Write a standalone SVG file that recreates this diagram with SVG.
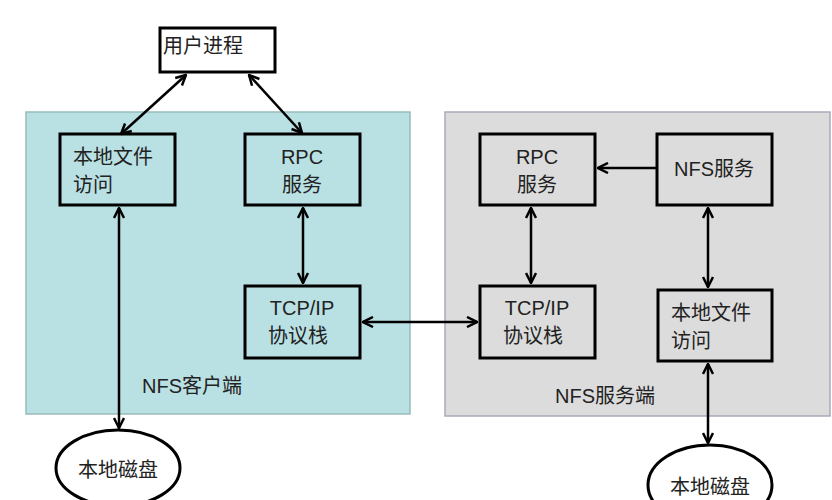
<svg xmlns="http://www.w3.org/2000/svg" width="832" height="500" viewBox="0 0 832 500">
<style>
.b{fill:none;stroke:#000;stroke-width:3}
.t{font-family:"Liberation Sans","Noto Sans CJK SC",sans-serif;font-size:20px;fill:#222}
.c{stroke:#000;stroke-width:2.5;fill:none;marker-end:url(#a)}
.d{stroke:#000;stroke-width:2.5;fill:none;marker-start:url(#s);marker-end:url(#a)}
</style>
<defs>
<marker id="a" viewBox="0 0 10 10" refX="9" refY="5" markerWidth="5" markerHeight="5" orient="auto" markerUnits="strokeWidth"><path d="M1,1 L9,5 L1,9" fill="none" stroke="#000" stroke-width="2"/></marker>
<marker id="s" viewBox="0 0 10 10" refX="1" refY="5" markerWidth="5" markerHeight="5" orient="auto" markerUnits="strokeWidth"><path d="M9,1 L1,5 L9,9" fill="none" stroke="#000" stroke-width="2"/></marker>
</defs>
<rect width="832" height="500" fill="#fff"/>
<g id="client"><rect x="26" y="112" width="384" height="302" fill="#b9e0e3" stroke="#9bb" stroke-width="1.5"/><text class="t" x="142" y="393">NFS客户端</text></g>
<g id="server"><rect x="445" y="112" width="385" height="304" fill="#dcdcdc" stroke="#aab" stroke-width="1.5"/><text class="t" x="555" y="403">NFS服务端</text></g>
<g id="user"><rect class="b" x="160" y="28" width="115" height="44" fill="#fff"/><text class="t" x="163" y="53">用户进程</text></g>
<g id="clocal"><rect class="b" x="60" y="134" width="115" height="71"/><text class="t" x="73" y="164">本地文件</text><text class="t" x="73" y="192">访问</text></g>
<g id="crpc"><rect class="b" x="245" y="134" width="115" height="71"/><text class="t" x="302" y="164" text-anchor="middle">RPC</text><text class="t" x="302" y="192" text-anchor="middle">服务</text></g>
<g id="ctcp"><rect class="b" x="245" y="286" width="115" height="72"/><text class="t" x="302" y="315" text-anchor="middle">TCP/IP</text><text class="t" x="268" y="343">协议栈</text></g>
<g id="cdisk"><ellipse class="b" cx="118" cy="468" rx="62" ry="38" fill="#fff"/><text class="t" x="118" y="477" text-anchor="middle" font-size="22">本地磁盘</text></g>
<g id="srpc"><rect class="b" x="480" y="134" width="115" height="71"/><text class="t" x="537" y="164" text-anchor="middle">RPC</text><text class="t" x="537" y="192" text-anchor="middle">服务</text></g>
<g id="snfs"><rect class="b" x="657" y="134" width="115" height="71"/><text class="t" x="714" y="176" text-anchor="middle">NFS服务</text></g>
<g id="stcp"><rect class="b" x="480" y="286" width="115" height="72"/><text class="t" x="537" y="315" text-anchor="middle">TCP/IP</text><text class="t" x="503" y="343">协议栈</text></g>
<g id="slocal"><rect class="b" x="658" y="290" width="114" height="71"/><text class="t" x="671" y="320">本地文件</text><text class="t" x="671" y="348">访问</text></g>
<g id="sdisk"><ellipse class="b" cx="710" cy="485" rx="62" ry="40" fill="#fff"/><text class="t" x="710" y="494" text-anchor="middle" font-size="22">本地磁盘</text></g>
<g id="connectors">
<line class="d" x1="186" y1="75" x2="121" y2="134"/>
<line class="d" x1="249" y1="75" x2="302" y2="133"/>
<line class="d" x1="119" y1="208" x2="119" y2="428"/>
<line class="d" x1="303" y1="208" x2="303" y2="283"/>
<line class="d" x1="363" y1="322" x2="477" y2="322"/>
<line class="c" x1="656" y1="168" x2="598" y2="168"/>
<line class="d" x1="531" y1="208" x2="531" y2="283"/>
<line class="d" x1="708" y1="208" x2="708" y2="287"/>
<line class="d" x1="708" y1="364" x2="708" y2="443"/>
</g>
</svg>
